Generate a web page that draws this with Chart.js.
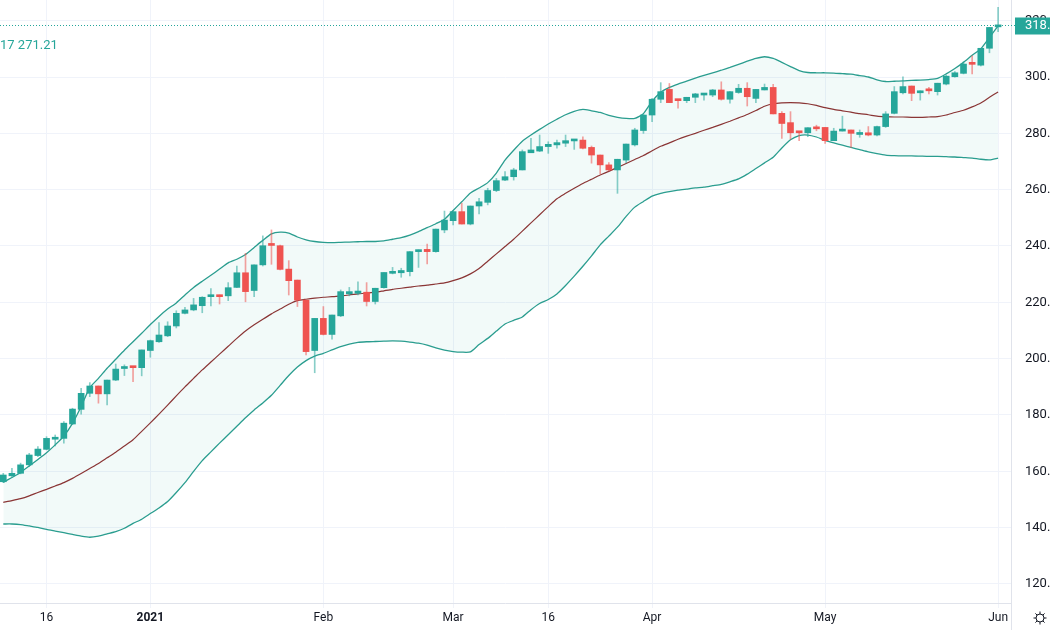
<!DOCTYPE html>
<html>
<head>
<meta charset="utf-8">
<script src="https://cdn.jsdelivr.net/npm/chart.js@4.4.0/dist/chart.umd.min.js"></script>
<style>
html,body{margin:0;padding:0;background:#ffffff;overflow:hidden}
canvas{display:block}
</style>
</head>
<body>
<canvas id="c" width="1050" height="630"></canvas>
<script>
// ---- data (daily candles) ----
const openP = [156.3,158.4,159.3,162.3,165.6,167.8,171.4,171.7,176.8,182.0,
187.7,190.3,187.5,192.4,196.5,197.2,196.8,202.9,206.0,208.1,
211.6,216.1,217.3,218.8,222.0,222.4,222.3,225.3,230.5,224.2,
233.3,240.6,240.1,231.8,227.9,220.8,202.9,214.3,208.6,215.2,
223.0,223.2,223.6,220.3,225.2,230.3,230.5,230.9,238.0,238.8,
238.0,245.7,249.0,252.2,247.8,254.2,255.5,259.7,263.4,264.6,
267.0,273.1,273.7,275.3,275.9,276.5,277.3,277.6,275.0,272.3,
268.8,267.0,270.5,275.9,281.0,286.5,292.1,295.6,292.1,291.6,
292.8,293.6,293.6,295.4,292.1,294.5,296.0,292.4,295.4,296.3,
287.1,283.8,280.6,280.2,282.1,282.1,277.4,280.8,281.2,279.6,
280.2,279.4,282.4,287.1,294.4,296.8,294.4,295.6,294.8,297.5,
300.1,301.3,304.9,304.2,310.2,317.8];
const highP = [159.3,161.1,162.9,166.4,168.8,172.3,172.9,177.7,182.4,189.5,
191.5,190.3,192.4,198.1,197.8,197.2,203.1,206.6,212.8,213.1,
217.0,218.2,221.4,222.0,224.9,222.6,227.0,232.9,237.4,233.3,
243.6,245.7,240.3,234.8,227.9,220.8,214.3,218.5,215.5,224.4,
225.3,227.3,227.0,225.0,230.6,232.4,232.1,238.0,238.6,240.7,
246.0,252.4,252.2,255.2,254.2,256.9,260.5,264.0,266.4,267.6,
274.1,278.2,279.4,277.0,277.6,279.4,277.6,278.8,275.5,272.3,
269.6,270.8,276.2,281.8,286.7,292.4,298.0,297.7,292.1,292.8,
294.2,294.2,295.6,298.3,294.8,297.4,298.0,295.6,297.5,297.4,
287.7,287.7,280.6,282.0,282.9,282.1,281.8,286.1,281.2,281.2,
282.4,282.6,287.7,296.6,300.1,296.8,295.1,296.3,297.8,300.7,
301.9,305.4,307.5,310.2,317.6,324.7];
const lowP = [156.0,158.1,159.1,161.7,165.2,167.6,169.0,170.0,176.6,180.3,
186.5,184.2,183.6,192.2,194.0,191.8,193.9,200.5,205.8,207.8,
210.9,215.9,217.0,216.3,218.7,219.4,220.6,225.2,220.2,222.0,
232.9,233.5,231.5,222.6,218.5,201.3,195.0,208.4,206.9,214.9,
222.3,222.6,218.7,219.4,225.0,230.1,228.9,229.4,232.4,233.6,
237.8,244.7,247.5,247.8,247.5,251.4,254.6,259.3,263.2,263.4,
267.0,273.1,273.5,272.9,274.7,275.3,274.3,274.5,269.4,265.6,
266.7,258.7,269.6,275.5,280.0,284.1,290.9,290.9,288.9,290.9,
290.9,291.8,293.0,291.8,290.7,294.2,289.7,290.9,295.4,286.9,
278.2,277.9,277.4,278.8,280.9,276.4,277.4,280.8,275.0,278.6,
279.1,279.1,282.1,286.9,294.0,291.6,291.8,294.0,293.6,297.2,
299.9,301.1,301.1,303.9,308.6,316.1];
const closeP = [158.7,159.3,162.3,165.8,167.9,171.7,172.1,177.1,182.1,187.7,
190.3,187.5,192.4,196.3,197.2,196.8,203.1,206.4,208.4,211.6,
216.1,217.3,219.1,221.8,222.4,222.0,225.2,230.5,223.8,233.3,
240.1,240.2,231.7,227.7,220.8,202.5,214.3,208.6,215.5,223.8,
223.8,224.0,220.3,225.0,230.6,230.9,231.3,238.0,238.6,238.0,
246.0,249.2,252.2,247.8,254.2,255.7,259.7,263.2,264.6,267.0,
273.5,274.1,275.3,276.1,276.7,277.4,277.6,274.7,272.3,268.8,
267.0,270.8,276.2,281.2,286.5,292.1,294.8,290.9,291.6,292.8,
294.0,293.9,295.4,292.1,294.8,296.0,293.0,295.6,296.3,286.9,
283.5,280.2,280.2,282.0,281.6,277.4,280.8,281.2,280.0,280.0,
279.4,282.4,286.9,294.8,296.6,294.2,295.1,295.1,297.8,300.3,
301.5,304.6,304.5,310.2,317.6,318.4];

// Bollinger Bands (20, 2)
const bbUpper = [156.1,157.8,159.6,161.9,164.2,166.6,169.4,172.5,177.0,183.0,
189.7,193.0,196.6,199.8,203.0,206.0,209.0,212.1,215.0,217.6,
219.8,222.6,225.3,227.5,229.6,231.8,234.0,235.3,237.0,239.5,
242.0,244.3,244.9,244.6,243.2,242.2,241.6,241.3,241.2,241.3,
241.4,241.5,241.6,241.6,241.8,242.4,243.0,243.9,245.1,246.5,
247.9,249.5,252.6,255.7,258.8,260.6,262.5,265.9,270.5,274.0,
277.2,279.4,281.4,283.3,285.0,286.6,287.8,288.5,288.0,287.4,
286.4,285.7,285.3,285.3,287.0,291.4,294.6,296.3,297.5,298.5,
299.6,300.6,301.5,302.4,303.4,304.5,305.6,306.6,307.2,306.6,
305.2,303.7,302.3,301.6,301.5,301.5,301.4,301.2,301.0,300.5,
300.0,299.0,298.4,298.5,298.6,298.8,298.9,299.1,299.5,301.1,
303.0,305.2,307.7,310.0,314.0,318.17];
const bbBasis = [149.0,149.6,150.3,151.3,152.5,153.6,154.8,156.0,157.5,159.2,
161.0,162.8,164.8,166.8,169.0,171.2,174.2,177.2,180.3,183.5,
186.8,190.0,193.0,196.0,198.8,201.6,204.4,207.2,209.8,212.0,
214.0,215.9,217.6,219.3,220.6,221.1,221.5,221.8,222.0,222.3,
222.6,223.0,223.3,223.6,224.1,224.6,225.0,225.4,225.8,226.1,
226.5,226.9,227.7,228.7,230.1,232.0,234.6,237.2,239.8,242.4,
245.3,248.2,251.1,254.0,256.8,258.7,260.5,262.2,263.7,265.2,
266.5,267.9,269.3,270.7,272.1,273.8,275.4,276.6,277.9,279.0,
280.0,281.1,282.1,283.2,284.3,285.5,286.7,288.1,289.6,290.5,
290.8,290.9,290.8,290.5,289.9,289.1,288.5,288.0,287.5,287.0,
286.6,286.1,285.9,285.8,285.8,285.7,285.7,285.8,285.9,286.5,
287.4,288.2,289.4,290.8,292.8,294.69];
const bbLower = [141.3,141.3,141.1,140.6,140.1,139.4,138.8,138.2,137.6,137.0,
136.6,137.0,137.8,138.6,139.8,141.5,143.0,145.0,147.0,149.3,
152.5,156.0,160.0,163.8,166.9,170.0,173.0,176.0,179.0,181.8,
184.3,187.0,190.5,194.0,197.0,199.3,200.9,201.9,203.1,204.3,
205.2,205.8,206.0,206.1,206.2,206.3,206.2,205.9,205.5,204.8,
203.8,203.0,202.5,202.3,202.4,205.0,207.2,209.8,212.3,213.6,
214.8,217.4,219.6,221.0,223.0,226.0,229.3,232.8,236.5,240.4,
243.5,246.7,250.5,253.8,255.8,257.7,258.7,259.3,259.8,260.2,
260.6,260.9,261.4,261.9,262.8,263.8,265.5,267.5,269.5,271.5,
274.8,277.7,279.2,279.4,278.7,277.5,276.6,275.8,275.0,274.2,
273.4,272.8,272.3,272.1,272.0,272.0,271.9,271.8,271.8,271.7,
271.6,271.4,271.2,270.8,270.6,271.21];

// time-axis labels (bar index -> label)
const xTickIndex = [5, 17, 37, 52, 63, 75, 95, 115];
const xTickLabels = ['16', '2021', 'Feb', 'Mar', '16', 'Apr', 'May', 'Jun'];
const xTickBold = [false, true, false, false, false, false, false, false];
const yTicks = [120, 140, 160, 180, 200, 220, 240, 260, 280, 300, 320];

// ---- styles ----
const UP = '#26a69a', DOWN = '#ef5350';
const UP_WICK = 'rgba(38,166,154,0.55)', DOWN_WICK = 'rgba(239,83,80,0.55)';
const GRID = '#f0f3fa', BORDER = '#e0e3eb', TEXT = '#131722';

Chart.defaults.font.family = 'Roboto';

const idx = openP.map((_, i) => i);
const isUp = idx.map(i => closeP[i] >= openP[i]);

const bodies = idx.map(i => ({x: i, y: [openP[i], closeP[i]]}));
const wicks = idx.map(i => ({x: i, y: [lowP[i], highP[i]]}));
const pts = arr => arr.map((v, i) => ({x: i, y: v}));

function noPad(s) {
  s.paddingTop = 0; s.paddingBottom = 0; s.paddingLeft = 0; s.paddingRight = 0;
}

const overlay = {
  id: 'overlay',
  beforeDatasetsDraw(chart) {
    const {ctx, chartArea, scales} = chart;
    const last = closeP[closeP.length - 1];
    const py = Math.round(scales.y.getPixelForValue(last)) + 0.5;
    ctx.save();
    ctx.strokeStyle = UP;
    ctx.lineWidth = 1;
    ctx.setLineDash([1, 2]);
    ctx.beginPath();
    ctx.moveTo(0, py);
    ctx.lineTo(chartArea.right, py);
    ctx.stroke();
    ctx.restore();
  },
  afterDraw(chart) {
    const {ctx, chartArea, scales} = chart;
    const last = closeP[closeP.length - 1];
    const py = Math.round(scales.y.getPixelForValue(last)) + 0.5;
    ctx.save();
    // panel borders
    ctx.strokeStyle = BORDER;
    ctx.lineWidth = 1;
    ctx.beginPath();
    ctx.moveTo(chartArea.right + 0.5, 0);
    ctx.lineTo(chartArea.right + 0.5, chart.height);
    ctx.moveTo(0, chartArea.bottom + 0.5);
    ctx.lineTo(chartArea.right, chartArea.bottom + 0.5);
    ctx.stroke();
    // price label box
    ctx.fillStyle = UP;
    ctx.fillRect(chartArea.right + 4, py - 8, 60, 17);
    ctx.setLineDash([1, 2]);
    ctx.strokeStyle = UP;
    ctx.beginPath();
    ctx.moveTo(chartArea.right, py);
    ctx.lineTo(chartArea.right + 4, py);
    ctx.stroke();
    ctx.setLineDash([]);
    ctx.fillStyle = '#ffffff';
    ctx.font = '13px Roboto';
    ctx.textAlign = 'left';
    ctx.textBaseline = 'middle';
    ctx.fillText(last.toFixed(2), chartArea.right + 14, py + 0.5);
    // indicator legend values (partly outside the left edge)
    const txt = bbUpper[bbUpper.length - 1].toFixed(2) + ' ' + bbLower[bbLower.length - 1].toFixed(2);
    ctx.font = '13px Roboto';
    ctx.fillStyle = UP;
    const hidden = ctx.measureText(txt.slice(0, 4)).width;
    ctx.fillText(txt, -hidden, 46);
    // settings gear
    const gx = 1040, gy = 618;
    ctx.strokeStyle = TEXT;
    ctx.lineWidth = 1;
    ctx.beginPath();
    ctx.arc(gx, gy, 4, 0, Math.PI * 2);
    ctx.stroke();
    ctx.beginPath();
    for (let k = 0; k < 8; k++) {
      const a = k * Math.PI / 4;
      ctx.moveTo(gx + Math.cos(a) * 4, gy + Math.sin(a) * 4);
      ctx.lineTo(gx + Math.cos(a) * 6.5, gy + Math.sin(a) * 6.5);
    }
    ctx.stroke();
    ctx.restore();
  }
};

new Chart(document.getElementById('c'), {
  type: 'line',
  data: {
    datasets: [
      {
        type: 'bar', label: 'body', data: bodies, order: 0, grouped: false,
        barThickness: 6, minBarLength: 2, borderWidth: 0,
        backgroundColor: idx.map(i => isUp[i] ? UP : DOWN)
      },
      {
        type: 'bar', label: 'wick', data: wicks, order: 1, grouped: false,
        barThickness: 1, borderWidth: 0,
        backgroundColor: idx.map(i => isUp[i] ? UP_WICK : DOWN_WICK)
      },
      {
        label: 'basis', data: pts(bbBasis), order: 2,
        borderColor: '#8a3535', borderWidth: 1.2, pointRadius: 0, tension: 0.2, fill: false
      },
      {
        label: 'upper', data: pts(bbUpper), order: 3,
        borderColor: '#2a9d8f', borderWidth: 1.3, pointRadius: 0, tension: 0.2, fill: false
      },
      {
        label: 'lower', data: pts(bbLower), order: 4,
        borderColor: '#2a9d8f', borderWidth: 1.3, pointRadius: 0, tension: 0.2,
        fill: {target: 3}, backgroundColor: 'rgba(38,166,154,0.06)'
      }
    ]
  },
  options: {
    responsive: false,
    animation: false,
    devicePixelRatio: 1,
    events: [],
    layout: {padding: 0},
    plugins: {legend: {display: false}, tooltip: {enabled: false}},
    scales: {
      x: {
        type: 'linear', position: 'bottom',
        min: -0.38, max: 116.49, offset: false,
        grid: {color: GRID, offset: false, drawTicks: true, tickLength: 5, tickColor: GRID},
        border: {display: false},
        afterBuildTicks: s => { s.ticks = xTickIndex.map(v => ({value: v})); },
        afterFit: s => { s.height = 27; noPad(s); },
        ticks: {
          autoSkip: false, maxRotation: 0, padding: 3, color: TEXT,
          font: c => ({family: 'Roboto', size: 12, weight: xTickBold[c.index] ? 'bold' : 'normal'}),
          callback: v => { const k = xTickIndex.indexOf(v); return k >= 0 ? xTickLabels[k] : ''; }
        }
      },
      y: {
        type: 'linear', position: 'right',
        min: 113.25, max: 327.34, beginAtZero: false,
        grid: {color: GRID, drawTicks: false},
        border: {display: false},
        afterBuildTicks: s => { s.ticks = yTicks.map(v => ({value: v})); },
        afterFit: s => { s.width = 39; noPad(s); },
        ticks: {
          padding: 14, color: TEXT, font: {family: 'Roboto', size: 13},
          callback: v => Number(v).toFixed(2)
        }
      }
    }
  },
  plugins: [overlay]
});
</script>
</body>
</html>
